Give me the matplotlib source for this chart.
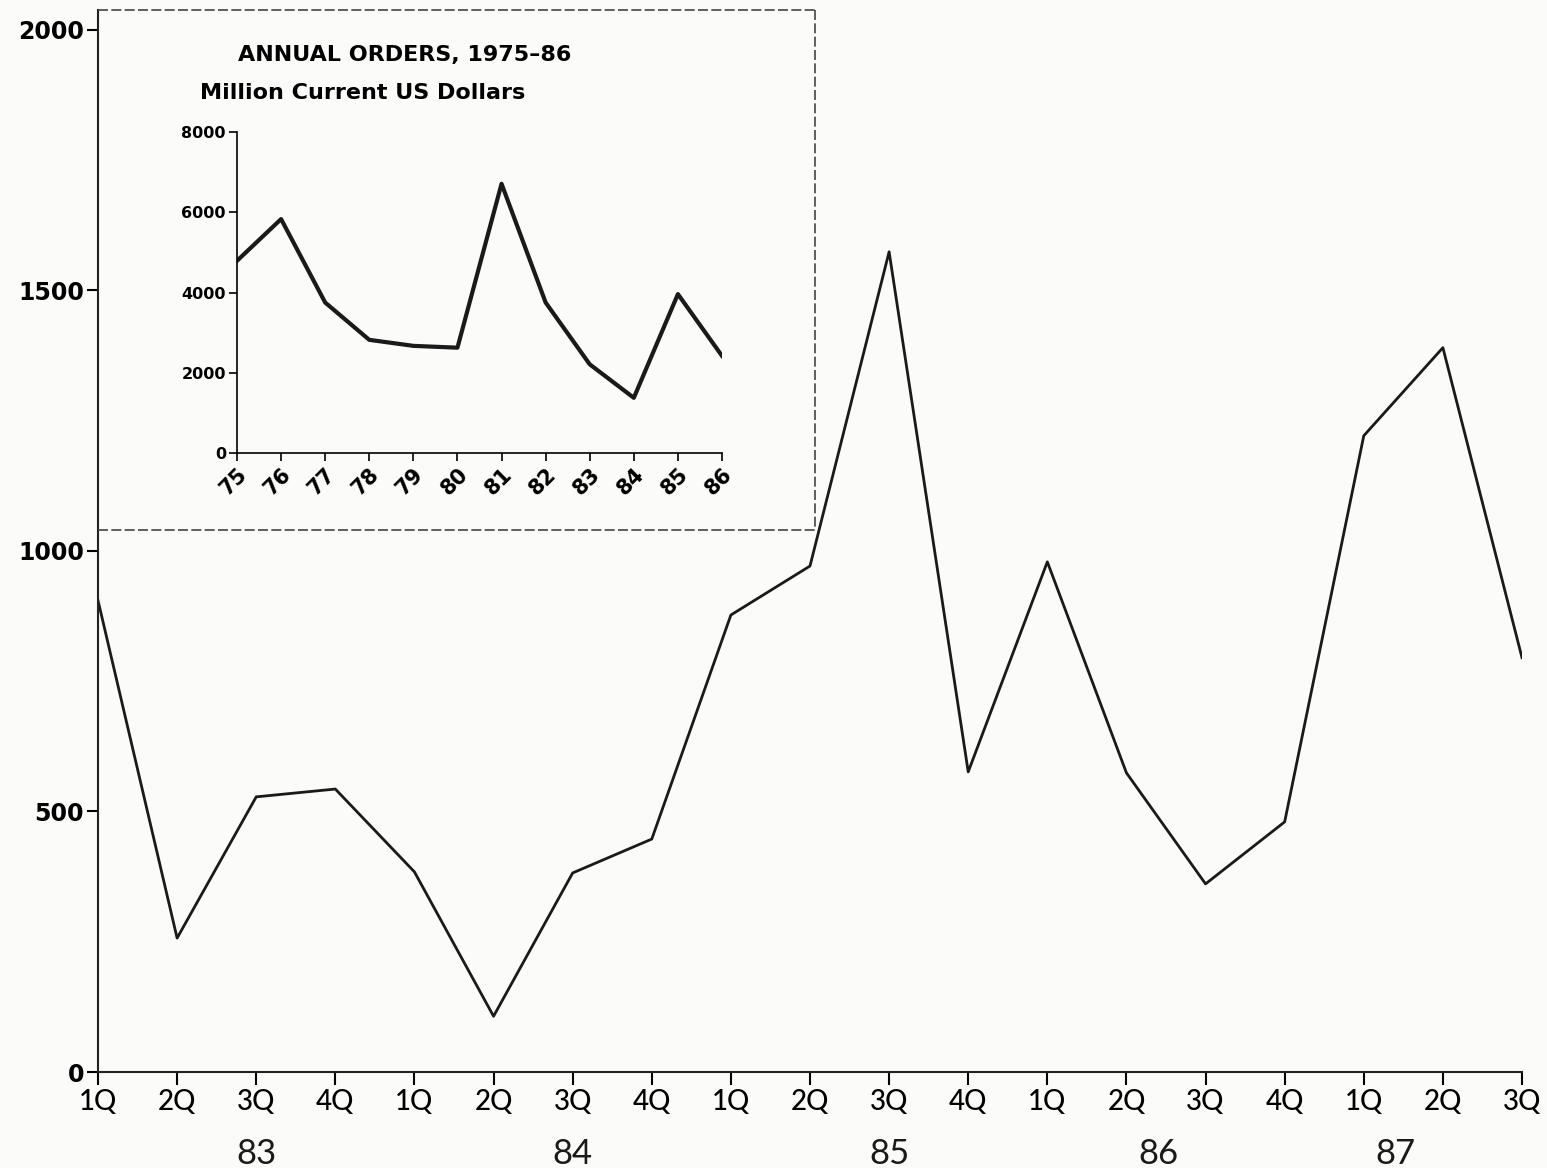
import matplotlib
matplotlib.use('Agg')
import matplotlib.pyplot as plt
from matplotlib.lines import Line2D

# Quarterly orders, 1Q83 - 3Q87 (million US dollars)
quarters = ['1Q', '2Q', '3Q', '4Q', '1Q', '2Q', '3Q', '4Q', '1Q', '2Q',
            '3Q', '4Q', '1Q', '2Q', '3Q', '4Q', '1Q', '2Q', '3Q']
quarterly_orders = [905, 257, 528, 543, 384, 107, 382, 447, 877, 971,
                    1574, 576, 979, 574, 361, 480, 1221, 1390, 795]
year_labels = ['83', '84', '85', '86', '87']

# Annual orders, 1975-86
years = ['75', '76', '77', '78', '79', '80', '81', '82', '83', '84', '85', '86']
annual_orders = [4790, 5830, 3750, 2820, 2670, 2625, 6710, 3750, 2210, 1375, 3960, 2420]

W, H = 1547, 1168
fig = plt.figure(figsize=(W / 100, H / 100), dpi=100)
fig.patch.set_facecolor('#fbfbf9')

# main chart
ax = fig.add_axes([98 / W, 1 - 1072 / H, (1522 - 98) / W, (1072 - 10) / H])
ax.set_facecolor('none')
x = list(range(len(quarterly_orders)))
ax.plot(x, quarterly_orders, color='#1a1a1a', linewidth=2.0)
ax.set_xlim(0, len(quarters) - 1)
ax.set_ylim(0, 2038)
ax.set_yticks([0, 500, 1000, 1500, 2000])
ax.set_yticklabels(['0', '500', '1000', '1500', '2000'], fontsize=17, fontweight='bold',
                   family='DejaVu Sans')
ax.set_xticks(x)
ax.set_xticklabels(quarters, fontsize=20, family='Lato', fontweight='medium')
ax.tick_params(axis='y', direction='out', length=8, width=1.5, pad=2)
ax.tick_params(axis='x', direction='out', length=9, width=1.5, pad=3)
for s in ['top', 'right']:
    ax.spines[s].set_visible(False)
for s in ['left', 'bottom']:
    ax.spines[s].set_linewidth(1.5)
    ax.spines[s].set_color('#222222')

# year labels under the quarter labels
year_pos = [2, 6, 10, 13.4, 16.4]
for pos, yl in zip(year_pos, year_labels):
    ax.text(pos, -0.087, yl, transform=ax.get_xaxis_transform(), ha='center', va='baseline',
            fontsize=25, family='Lato', color='#1a1a1a')

# dashed frame round the inset
box_kw = dict(color='#444444', linewidth=1.2, linestyle=(0, (6, 2)))
fig.add_artist(Line2D([98 / W, 815 / W], [1 - 10 / H, 1 - 10 / H], **box_kw))
fig.add_artist(Line2D([815 / W, 815 / W], [1 - 10 / H, 1 - 530 / H], **box_kw))
fig.add_artist(Line2D([98 / W, 815 / W], [1 - 530 / H, 1 - 530 / H], **box_kw))

fig.text(405 / W, 1 - 55 / H, 'ANNUAL ORDERS, 1975\u201386', ha='center', va='center',
         fontsize=16, fontweight='bold', family='DejaVu Sans')
fig.text(200 / W, 1 - 93 / H, 'Million Current US Dollars', ha='left', va='center',
         fontsize=16, fontweight='bold', family='DejaVu Sans')

# inset chart
ins = fig.add_axes([237 / W, 1 - 453 / H, (722 - 237) / W, (453 - 132) / H])
ins.set_facecolor('none')
ix = list(range(len(annual_orders)))
ins.plot(ix, annual_orders, color='#1a1a1a', linewidth=3.0, solid_joinstyle='round')
ins.set_xlim(0, len(years) - 1)
ins.set_ylim(0, 8000)
ins.set_yticks([0, 2000, 4000, 6000, 8000])
ins.set_yticklabels(['0', '2000', '4000', '6000', '8000'], fontsize=11.5, fontweight='bold')
ins.set_xticks(ix)
ins.set_xticklabels(years, fontsize=15, fontweight='bold', rotation=45, ha='right',
                    rotation_mode='anchor')
ins.tick_params(axis='both', direction='out', length=6, width=1.2, pad=2)
for s in ['top', 'right']:
    ins.spines[s].set_visible(False)
for s in ['left', 'bottom']:
    ins.spines[s].set_linewidth(1.2)

fig.savefig('out.png', dpi=100, facecolor=fig.get_facecolor())
